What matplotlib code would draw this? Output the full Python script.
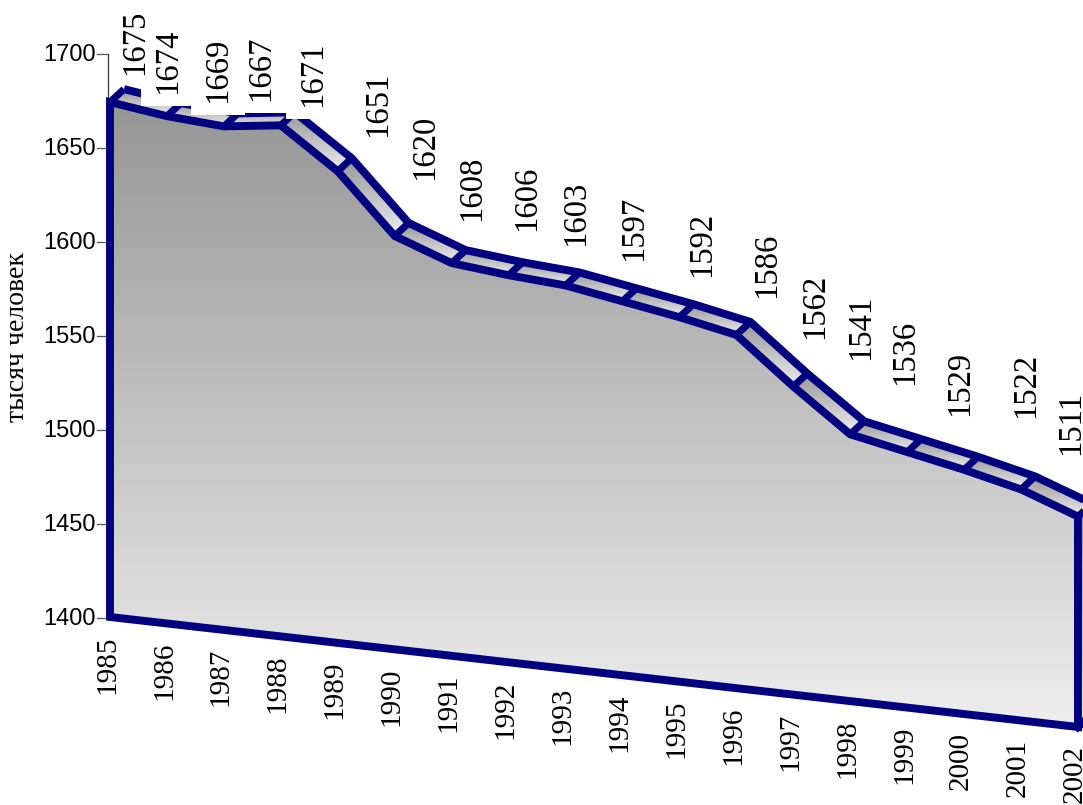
import matplotlib
matplotlib.use('Agg')
import matplotlib.pyplot as plt
import numpy as np
from matplotlib.colors import LinearSegmentedColormap
from matplotlib.patches import Polygon
from matplotlib.transforms import Affine2D

years = list(range(1985, 2003))
values = [1674, 1670, 1668, 1672, 1651, 1620, 1609, 1606, 1604, 1599, 1594, 1588, 1564, 1542, 1536, 1530, 1523, 1512]
# the picture carries 19 data labels on 18 points, so they are kept apart
label_texts = ['1675', '1674', '1669', '1667', '1671', '1651', '1620', '1608', '1606', '1603',
               '1597', '1592', '1586', '1562', '1541', '1536', '1529', '1522', '1511']
label_x = [135, 168, 218, 261, 313, 378, 425, 472, 527, 576, 634, 702, 767, 815, 861, 905, 960, 1026, 1071]
label_bottom = [75, 94, 103, 101, 107, 137, 180, 221, 231, 246, 261, 277, 298, 339, 360, 385, 416, 418, 455]
y_ticks = [1400, 1450, 1500, 1550, 1600, 1650, 1700]

W, H = 1083, 805
NAVY = '#000080'
SERIF = 'Liberation Serif'
SANS = 'Liberation Sans'
grey = LinearSegmentedColormap.from_list('grey', ['#969696', '#eeeeee'])
grad = np.linspace(0, 1, 256).reshape(-1, 1)

fig = plt.figure(figsize=(W / 100, H / 100), dpi=100)
ax = fig.add_axes([0, 0, 1, 1])

# sheared plane: (year index, value) -> picture pixels
X0, DX, Y0, DY, SY = 110, 56.94, 617, 6.47, 1.879
shear = Affine2D.from_values(DX, DY, 0, -SY, X0, Y0 + 1400 * SY)
DEPTH = np.array([14, -13])

idx = np.arange(len(years))
top = shear.transform(np.column_stack([idx, values]))
bottom = shear.transform(np.column_stack([idx, np.full(len(idx), 1400)]))
back = top + DEPTH


def gradient_poly(points, zorder):
    xs, ys = points[:, 0], points[:, 1]
    im = ax.imshow(grad, cmap=grey, aspect='auto', vmin=0, vmax=1, zorder=zorder,
                   extent=[xs.min(), xs.max(), ys.max(), ys.min()], origin='upper')
    p = Polygon(points, closed=True, transform=ax.transData, fc='none', ec='none')
    ax.add_patch(p)
    im.set_clip_path(p)


# top band, one piece per segment
for i in range(len(idx) - 1):
    gradient_poly(np.array([top[i], top[i + 1], back[i + 1], back[i]]), 1)
# right wall
gradient_poly(np.array([top[-1], back[-1], bottom[-1] + DEPTH, bottom[-1]]), 1)

# front face
front = np.vstack([top, bottom[::-1]])
gradient_poly(front, 1)

lw = 5.7
ax.add_patch(Polygon(front, closed=True, fc='none', ec=NAVY, lw=lw, joinstyle='miter', zorder=3))
ax.plot(back[:, 0], back[:, 1], color=NAVY, lw=lw, solid_joinstyle='miter', solid_capstyle='butt', zorder=3)
for i in idx:
    ax.plot([top[i, 0], back[i, 0]], [top[i, 1], back[i, 1]], color=NAVY, lw=lw * 0.9,
            solid_capstyle='butt', zorder=3)
ax.plot([bottom[-1, 0], bottom[-1, 0] + DEPTH[0]], [bottom[-1, 1], bottom[-1, 1] + DEPTH[1]],
        color=NAVY, lw=lw, zorder=3)

# value axis
tick_pos = shear.transform(np.column_stack([np.zeros(len(y_ticks)), y_ticks]))
ax.plot([107.5, 107.5], [tick_pos[0, 1] + 1, tick_pos[-1, 1] + 1], color='#333333', lw=0.9, zorder=2)
for t, (px, py) in zip(y_ticks, tick_pos):
    ax.plot([97, 107.5], [py + 1, py + 1], color='#555555', lw=0.9, zorder=2)
    ax.text(95.5, py + 2, str(t), ha='right', va='center', family=SANS, fontsize=17, zorder=6)

for y, (px, py) in zip(years, bottom):
    ax.text(px - 3, py + 18, str(y), rotation=90, ha='center', va='top', family=SERIF, fontsize=21, zorder=6)

for k, (txt, lx, lb) in enumerate(zip(label_texts, label_x, label_bottom)):
    box = None
    if 1 <= k <= 4:
        box = dict(boxstyle='square,pad=0.36', fc='white', ec='none')
    ax.text(lx, lb, txt, rotation=90, ha='center', va='bottom', family=SERIF, fontsize=23.5,
            bbox=box, zorder=4 if box else 6)

ax.text(18, 337, 'тысяч человек', rotation=90, ha='center', va='center', family=SERIF, fontsize=20)

ax.set_xlim(0, W)
ax.set_ylim(H, 0)
ax.axis('off')
fig.savefig('out.png', dpi=100)
